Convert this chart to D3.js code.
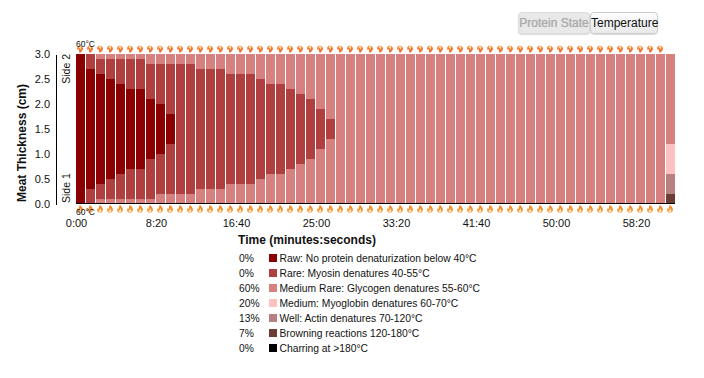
<!DOCTYPE html>
<html>
<head>
<meta charset="utf-8">
<script src="https://cdnjs.cloudflare.com/ajax/libs/d3/7.8.5/d3.min.js"></script>
<style>
    body { margin: 0; background: #fff; font-family: "Liberation Sans", Arial, sans-serif; }
    #chart { position: absolute; left: 0; top: 0; }
    svg text { font-family: "Liberation Sans", Arial, sans-serif; fill: #111; }
    .axis .domain { stroke: #000; stroke-width: 1px; shape-rendering: crispEdges; }
    button {
        position: absolute; top: 12px; height: 22px; padding: 0; white-space: nowrap;
        font: 12px "Liberation Sans", Arial, sans-serif; color: #111;
        border: 1px solid #ccc; border-radius: 4px;
        background: linear-gradient(#fdfdfd, #e9e9e9);
        box-shadow: 0 1px 1px rgba(0, 0, 0, 0.15);
    }
    button:disabled { color: #aaa; text-shadow: 0 0 1px #bbb; background: #e9e9e9; border-color: #ddd; }
</style>
</head>
<body>
<div id="chart"></div>
<script>
// One entry per column, boundaries in cm. Each state is a band [low, high] nested inside the last.
var rawLow  = [0, .3, .4, .5, .6, .7, .7, .9, 1, 1.2];
var rawHigh = [3, 2.7, 2.6, 2.5, 2.4, 2.3, 2.3, 2.1, 2, 1.8];
var rareLow  = [0, 0, .1, .1, .1, .1, .1, .1, .2, .2, .2, .2, .3, .3, .3, .4, .4, .4, .5, .6, .6, .7, .8, .9, 1.1, 1.3];
var rareHigh = [3, 3, 2.9, 2.9, 2.9, 2.9, 2.9, 2.8, 2.8, 2.8, 2.8, 2.8, 2.7, 2.7, 2.7, 2.6, 2.6, 2.6, 2.5, 2.4, 2.4, 2.3, 2.2, 2.1, 1.9, 1.7];
var lastColumnHigh = [1.2, 0.6, 0.2]; // medium, well, browning in the final column

var columnCount = 60;
var topFlameCount = 59;
var bottomFlameCount = 60;

var tickSeconds = [0, 500, 1000, 1500, 2000, 2500, 3000, 3500];
var yTicks = [0, 0.5, 1, 1.5, 2, 2.5, 3];

var legendPercents = ["0%", "0%", "60%", "20%", "13%", "7%", "0%"];
var legendLabels = [
    "Raw: No protein denaturization below 40°C",
    "Rare: Myosin denatures 40-55°C",
    "Medium Rare: Glycogen denatures 55-60°C",
    "Medium: Myoglobin denatures 60-70°C",
    "Well: Actin denatures 70-120°C",
    "Browning reactions 120-180°C",
    "Charring at >180°C"
];
var legendColors = ["#8b0000", "#b04040", "#d68080", "#ffc0c0", "#b88080", "#6b3d35", "#000000"];

var columns = d3.range(columnCount);

var xBand = d3.scaleBand().domain(columns).range([76, 675]).paddingInner(0.1);
var xTime = d3.scaleLinear().domain([0, 3750]).range([76, 676]);
var y = d3.scaleLinear().domain([0, 3]).range([204, 54]);

var svg = d3.select("#chart").append("svg").attr("width", 704).attr("height", 378);

// Build the bands, back to front
var bands = [];
columns.forEach(function (c) { bands.push({ c: c, low: 0, high: 3, color: legendColors[2] }); });
rareLow.forEach(function (d, c) { bands.push({ c: c, low: d, high: rareHigh[c], color: legendColors[1] }); });
rawLow.forEach(function (d, c) { bands.push({ c: c, low: d, high: rawHigh[c], color: legendColors[0] }); });
lastColumnHigh.forEach(function (d, i) { bands.push({ c: columnCount - 1, low: 0, high: d, color: legendColors[3 + i] }); });

svg.append("g").selectAll("rect")
    .data(bands)
    .enter().append("rect")
    .attr("x", function (d) { return xBand(d.c); })
    .attr("width", xBand.bandwidth())
    .attr("y", function (d) { return y(d.high); })
    .attr("height", function (d) { return y(d.low) - y(d.high); })
    .attr("shape-rendering", "crispEdges")
    .style("fill", function (d) { return d.color; });

// x axis
var xAxis = d3.axisBottom(xTime)
    .tickValues(tickSeconds)
    .tickSize(0)
    .tickPadding(15.5)
    .tickFormat(function (d) { return Math.floor(d / 60) + ":" + d3.format("02")(d % 60); });

var xG = svg.append("g")
    .attr("class", "axis")
    .attr("transform", "translate(0,203.5)")
    .call(xAxis);
xG.select(".domain").attr("d", "M76,0H675");
xG.selectAll("text").style("font-size", "11px");

// y axis
var yAxis = d3.axisLeft(y)
    .tickValues(yTicks)
    .tickSize(0)
    .tickPadding(6)
    .tickFormat(d3.format(".1f"));

var yG = svg.append("g")
    .attr("class", "axis")
    .attr("transform", "translate(56,0)")
    .call(yAxis);
yG.selectAll("text").style("font-size", "11px");

// axis titles
svg.append("text")
    .attr("transform", "translate(26,143) rotate(-90)")
    .attr("text-anchor", "middle")
    .style("font-size", "12px").style("font-weight", "bold")
    .text("Meat Thickness (cm)");

svg.append("text")
    .attr("x", 307).attr("y", 244)
    .attr("text-anchor", "middle")
    .style("font-size", "12px").style("font-weight", "bold")
    .text("Time (minutes:seconds)");

svg.append("text")
    .attr("transform", "translate(70,54) rotate(-90)")
    .attr("text-anchor", "end")
    .style("font-size", "10.5px")
    .text("Side 2");

svg.append("text")
    .attr("transform", "translate(70,203) rotate(-90)")
    .style("font-size", "10.5px")
    .text("Side 1");

// flames
var flameOuter = "M0,4.5C-3.4,4.5-4,1.5-2.6,-.6C-2.4,.3-2,.8-1.5,1C-1.7,-1.2-.6,-3-.0,-4.5C.5,-2.8 3.9,-1.2 3.4,1.6C3.1,3.4 1.7,4.5 0,4.5Z";
var flameInner = "M0,4.2C-1.6,4.2-2.1,2.8-1.2,1.6C-.8,2-.4,2-.2,1.6C-.2,.8 0,.2 .3,-.3C.8,.8 1.9,1.6 1.6,3C1.4,3.8 .8,4.2 0,4.2Z";

function drawFlames(count, cy, flip) {
    var g = svg.append("g").selectAll("g")
        .data(d3.range(count))
        .enter().append("g")
        .attr("transform", function (d) {
            return "translate(" + (xBand(d) + 4) + "," + cy + ") scale(0.85," + (flip ? -0.85 : 0.9) + ")";
        });
    g.append("path").attr("d", flameOuter).style("fill", flip ? "#f4702a" : "#f78a26");
    g.append("path").attr("d", flameInner).style("fill", flip ? "#ffdf9a" : "#fff2c4");
}
drawFlames(topFlameCount, 49.5, true);
drawFlames(bottomFlameCount, 208.5, false);

svg.append("text").attr("x", 76).attr("y", 47).style("font-size", "8.5px").text("60°C");
svg.append("text").attr("x", 76).attr("y", 215).style("font-size", "8.5px").text("60°C");

// legend
var legend = svg.append("g").selectAll("g")
    .data(legendLabels)
    .enter().append("g")
    .attr("transform", function (d, i) { return "translate(0," + (258 + i * 15) + ")"; });

legend.append("text")
    .attr("x", 239).attr("y", 3.5)
    .style("font-size", "10.3px")
    .text(function (d, i) { return legendPercents[i]; });

legend.append("rect")
    .attr("x", 269).attr("y", -4)
    .attr("width", 8).attr("height", 8)
    .style("fill", function (d, i) { return legendColors[i]; });

legend.append("text")
    .attr("x", 279.5).attr("y", 3.5)
    .style("font-size", "10.3px")
    .text(function (d) { return d; });

// buttons
d3.select("body").append("button")
    .style("left", "518px").style("width", "72px")
    .property("disabled", true)
    .text("Protein State");
d3.select("body").append("button")
    .style("left", "590px").style("width", "68px")
    .text("Temperature");
</script>
</body>
</html>
